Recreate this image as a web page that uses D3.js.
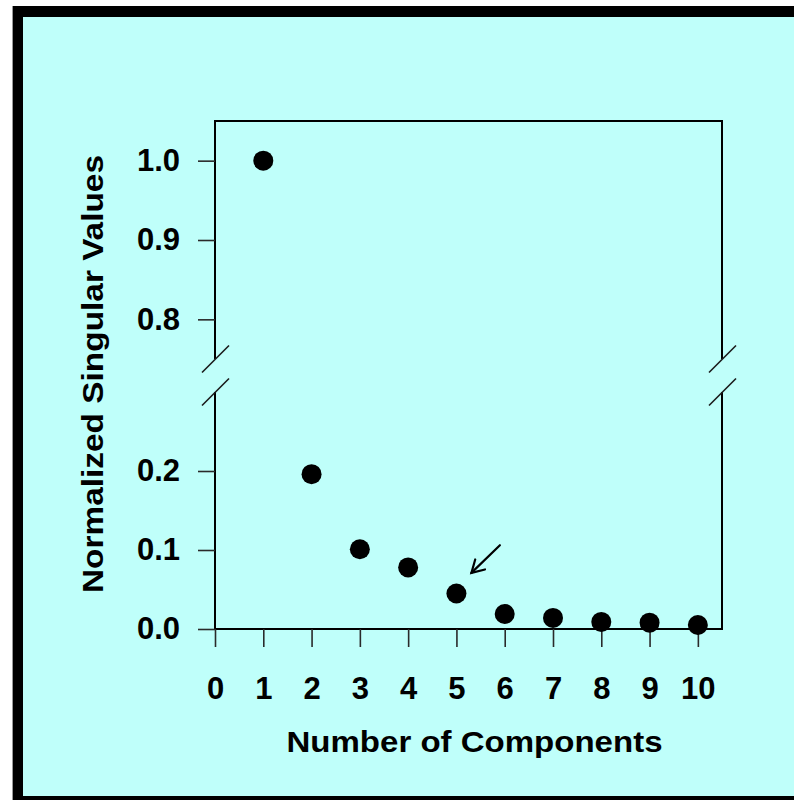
<!DOCTYPE html>
<html>
<head>
<meta charset="utf-8">
<script src="https://cdn.jsdelivr.net/npm/d3@7/dist/d3.min.js"></script>
<style>
  html, body { margin: 0; padding: 0; background: #ffffff; }
  svg { display: block; }
  text { font-family: "Liberation Sans", Arial, Helvetica, sans-serif; font-weight: bold; fill: #000; }
</style>
</head>
<body>
<svg id="chart" width="794" height="800"></svg>
<script>
// Component index and normalized singular value of each component
const components = [1, 2, 3, 4, 5, 6, 7, 8, 9, 10];
const singularValues = [1.0, 0.196, 0.101, 0.078, 0.045, 0.019, 0.014, 0.009, 0.008, 0.005];

// Axis ticks
const xTicks = [0, 1, 2, 3, 4, 5, 6, 7, 8, 9, 10];
const upperTicks = [0.8, 0.9, 1.0];
const lowerTicks = [0.0, 0.1, 0.2];

// Broken y axis: two ranges with a gap between them
const upperDomain = [0.75, 1.05];
const lowerDomain = [0.0, 0.30];

// Arrow pointing at the elbow (component 5): tail and tip in data units
const arrowTail = [5.9, 0.106];
const arrowTip = [5.31, 0.071];

const svg = d3.select("#chart");

// Page frame: thick black border, light cyan panel
svg.append("rect").attr("x", 12).attr("y", 6).attr("width", 800).attr("height", 800).attr("fill", "#000");
svg.append("line").attr("x1", 12.5).attr("y1", 6).attr("x2", 12.5).attr("y2", 800)
  .attr("stroke", "#9a9a9a").attr("stroke-width", 1);
svg.append("rect").attr("x", 23).attr("y", 17).attr("width", 790).attr("height", 779).attr("fill", "#bffffa");

const plotLeft = 215, plotRight = 722, plotTop = 121, plotBottom = 629;
const upperBottom = 359, lowerTop = 392;

const x = d3.scaleLinear().domain([0, 10.5]).range([plotLeft, plotRight]);
const yUpper = d3.scaleLinear().domain(upperDomain).range([upperBottom, plotTop]);
const yLower = d3.scaleLinear().domain(lowerDomain).range([plotBottom, lowerTop]);
const yOf = v => (v >= upperDomain[0] ? yUpper(v) : yLower(v));

// Plot box, split where the y axis breaks
const frame = svg.append("g").attr("stroke", "#000").attr("stroke-width", 2).attr("fill", "none");
frame.append("line").attr("x1", plotLeft - 1).attr("y1", plotTop).attr("x2", plotRight + 1).attr("y2", plotTop);
frame.append("line").attr("x1", plotLeft).attr("y1", plotBottom).attr("x2", plotRight + 1).attr("y2", plotBottom);
[plotLeft, plotRight].forEach(ax => {
  frame.append("line").attr("x1", ax).attr("y1", plotTop).attr("x2", ax).attr("y2", upperBottom);
  frame.append("line").attr("x1", ax).attr("y1", lowerTop).attr("x2", ax).attr("y2", plotBottom + 1);
});

// Break marks on both vertical sides
const breaks = svg.append("g").attr("stroke", "#1a1a1a").attr("stroke-width", 1.6);
[plotLeft, plotRight].forEach(ax => {
  [upperBottom, lowerTop].forEach(by => {
    breaks.append("line")
      .attr("x1", ax - 13).attr("y1", by + 13.5)
      .attr("x2", ax + 14).attr("y2", by - 13.5);
  });
});

const fmt = d3.format(".1f");
function styleAxis(g) {
  g.select(".domain").remove();
  g.selectAll(".tick line").attr("stroke", "#2a2a2a").attr("stroke-width", 1.6);
  g.selectAll(".tick text")
    .attr("fill", "#000")
    .style("font-family", '"Liberation Sans", Arial, sans-serif')
    .style("font-weight", "bold")
    .style("font-size", "31px");
}

svg.append("g").attr("transform", `translate(${plotLeft},0)`)
  .call(d3.axisLeft(yUpper).tickValues(upperTicks).tickSize(17).tickPadding(18).tickFormat(fmt))
  .call(styleAxis);
svg.append("g").attr("transform", `translate(${plotLeft},0)`)
  .call(d3.axisLeft(yLower).tickValues(lowerTicks).tickSize(17).tickPadding(18).tickFormat(fmt))
  .call(styleAxis);
svg.append("g").attr("transform", `translate(0,${plotBottom})`)
  .call(d3.axisBottom(x).tickValues(xTicks).tickSize(18).tickPadding(30).tickFormat(d3.format("d")))
  .call(styleAxis);

// Axis titles
svg.append("text")
  .attr("x", (plotLeft + plotRight) / 2 + 6).attr("y", 752)
  .attr("text-anchor", "middle")
  .style("font-size", "30px")
  .attr("textLength", 376).attr("lengthAdjust", "spacingAndGlyphs")
  .text("Number of Components");
svg.append("text")
  .attr("transform", "translate(103,374) rotate(-90)")
  .attr("text-anchor", "middle")
  .style("font-size", "30px")
  .attr("textLength", 438).attr("lengthAdjust", "spacingAndGlyphs")
  .text("Normalized Singular Values");

// Data points
svg.append("g").selectAll("circle")
  .data(components.map((c, i) => ({ c, v: singularValues[i] })))
  .join("circle")
  .attr("cx", d => x(d.c))
  .attr("cy", d => yOf(d.v))
  .attr("r", 10)
  .attr("fill", "#000");

// Arrow marking the elbow
const tx = x(arrowTip[0]), ty = yLower(arrowTip[1]);
const sx = x(arrowTail[0]), sy = yLower(arrowTail[1]);
const ang = Math.atan2(sy - ty, sx - tx);
const headLen = 14, headSpread = Math.PI / 6;
const arrow = svg.append("g").attr("stroke", "#000").attr("stroke-width", 2.2).attr("fill", "none")
  .attr("stroke-linecap", "round");
arrow.append("line").attr("x1", sx).attr("y1", sy).attr("x2", tx).attr("y2", ty);
arrow.append("path").attr("d",
  `M${tx + headLen * Math.cos(ang - headSpread)},${ty + headLen * Math.sin(ang - headSpread)}` +
  `L${tx},${ty}` +
  `L${tx + headLen * Math.cos(ang + headSpread)},${ty + headLen * Math.sin(ang + headSpread)}`);
</script>
</body>
</html>
